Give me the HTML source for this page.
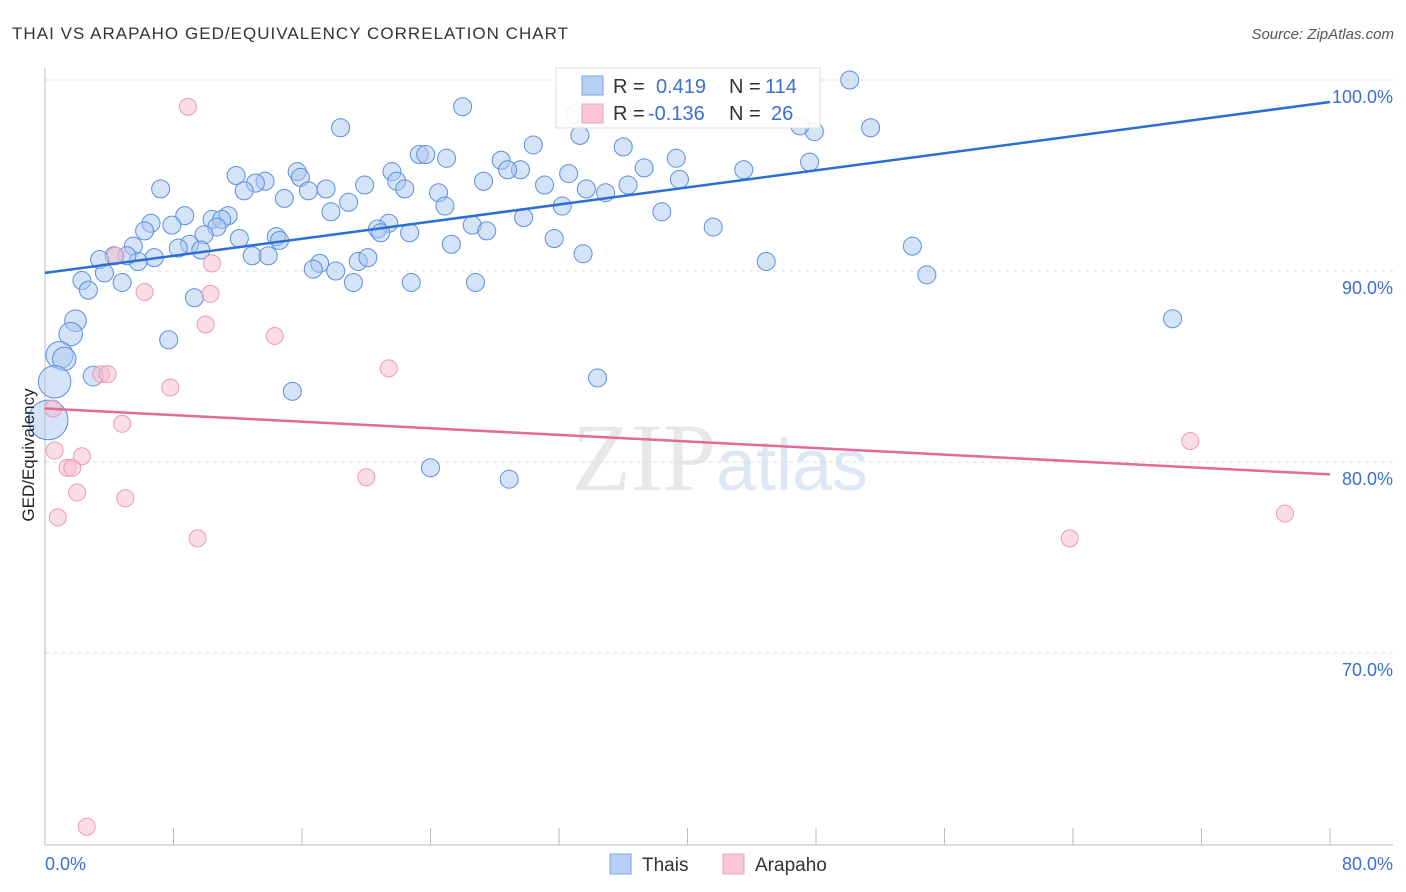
<!DOCTYPE html>
<html><head><meta charset="utf-8"><style>
body{margin:0;background:#fff;}
svg{display:block;font-family:"Liberation Sans",sans-serif;}
</style></head><body>
<svg id="chart" width="1406" height="892">
<text x="12" y="39" font-size="17" fill="#333" textLength="556">THAI VS ARAPAHO GED/EQUIVALENCY CORRELATION CHART</text>
<text x="1394" y="39" font-size="15" fill="#555" text-anchor="end" font-style="italic">Source: ZipAtlas.com</text>
<text x="720" y="490" font-size="96" fill="#e8e8e8" text-anchor="middle" font-family="Liberation Serif,serif">ZIP<tspan fill="#dde7f6" font-family="Liberation Sans,sans-serif" font-size="72">atlas</tspan></text>
<g id="grid"></g>
<g id="axes"></g>
<g id="pts"></g>
<g id="trend"></g>
<text transform="translate(34,455) rotate(-90)" font-size="17" fill="#222" text-anchor="middle">GED/Equivalency</text>
<text x="45" y="870" font-size="18" fill="#3b6fd4">0.0%</text>
<text x="1393" y="870" font-size="18" fill="#3b6fd4" text-anchor="end">80.0%</text>
<g>
<rect x="556" y="68" width="264" height="60" fill="#fff" fill-opacity="0.9" stroke="#ddd"/>
<rect x="582" y="76" width="21" height="19" fill="#b7d0f3" stroke="#7aa6e8"/>
<rect x="582" y="104" width="21" height="19" fill="#f9c7d6" stroke="#f0a0b8"/>
<text x="613" y="93" font-size="20" fill="#333">R = <tspan fill="#3b6fd4" x="656">0.419</tspan><tspan x="729" fill="#333">N =</tspan><tspan x="765" fill="#3b6fd4">114</tspan></text>
<text x="613" y="120" font-size="20" fill="#333">R = <tspan fill="#3b6fd4" x="648">-0.136</tspan><tspan x="729" fill="#333">N =</tspan><tspan x="771" fill="#3b6fd4">26</tspan></text>
</g>
<g>
<rect x="610" y="854" width="21" height="20" fill="#b7d0f3" stroke="#7aa6e8"/>
<text x="642" y="871" font-size="19" fill="#333">Thais</text>
<rect x="723" y="854" width="21" height="20" fill="#f9c7d6" stroke="#f0a0b8"/>
<text x="755" y="871" font-size="19" fill="#333">Arapaho</text>
</g>
</svg>
<script>
const yTicks=[100,90,80,70];
const yTickLabels=["100.0%","90.0%","80.0%","70.0%"];
const thaiX=[50.1,26.0,18.4,33.3,30.4,36.0,51.4,47.9,47.0,33.0,36.5,23.3,23.7,25.0,28.4,29.6,28.8,39.3,37.3,47.6,43.5,11.9,15.7,13.7,13.1,15.9,21.6,21.9,19.9,7.2,12.4,16.4,17.5,22.4,27.3,31.1,32.6,33.7,34.9,36.3,39.5,24.5,14.9,18.9,17.8,24.9,32.2,38.4,29.8,8.7,6.6,7.9,10.4,11.4,11.0,10.7,9.9,6.2,21.4,20.7,20.9,22.7,26.6,27.5,41.6,31.7,12.1,14.4,14.6,9.0,8.3,9.7,5.5,25.3,33.5,54.0,12.9,13.9,17.1,19.5,20.1,16.7,18.1,6.8,5.8,5.1,4.3,3.4,3.7,2.3,2.7,4.8,19.2,22.8,26.8,9.3,44.9,54.9,70.2,1.9,1.6,7.7,0.9,1.2,0.6,3.0,34.4,15.4,0.2,24.0,28.9];
const thaiY=[100.0,98.6,97.5,97.1,96.6,96.5,97.5,97.3,97.6,98.2,98.4,96.1,96.1,95.9,95.8,95.3,95.3,95.9,95.4,95.7,95.3,95.0,95.2,94.7,94.6,94.9,95.2,94.7,94.5,94.3,94.2,94.2,94.3,94.3,94.7,94.5,95.1,94.3,94.1,94.5,94.8,94.1,93.8,93.6,93.1,93.4,93.4,93.1,92.8,92.9,92.5,92.4,92.7,92.9,92.7,92.3,91.9,92.1,92.5,92.2,92.0,92.0,92.4,92.1,92.3,91.7,91.7,91.8,91.6,91.4,91.2,91.1,91.3,91.4,90.9,91.3,90.8,90.8,90.4,90.5,90.7,90.1,90.0,90.7,90.5,90.8,90.8,90.6,89.9,89.5,89.0,89.4,89.4,89.4,89.4,88.6,90.5,89.8,87.5,87.4,86.7,86.4,85.6,85.4,84.2,84.5,84.4,83.7,82.2,79.7,79.1];
const thaiSize=[1,1,1,1,1,1,1,1,1,1,1,1,1,1,1,1,1,1,1,1,1,1,1,1,1,1,1,1,1,1,1,1,1,1,1,1,1,1,1,1,1,1,1,1,1,1,1,1,1,1,1,1,1,1,1,1,1,1,1,1,1,1,1,1,1,1,1,1,1,1,1,1,1,1,1,1,1,1,1,1,1,1,1,1,1,1,1,1,1,1,1,1,1,1,1,1,1,1,1,1.2,1.3,1,1.5,1.3,1.8,1.1,1,1,2.2,1,1];
const arapahoX=[8.9,0.5,0.6,0.8,1.4,1.7,2.0,2.3,2.6,3.5,3.9,4.4,4.8,5.0,6.2,7.8,9.5,10.0,10.3,10.4,14.3,20.0,21.4,63.8,71.3,77.2];
const arapahoY=[98.6,82.8,80.6,77.1,79.7,79.7,78.4,80.3,60.9,84.6,84.6,90.8,82.0,78.1,88.9,83.9,76.0,87.2,88.8,90.4,86.6,79.2,84.9,76.0,81.1,77.3];
const trendThaiY=[89.9,98.85];
const trendArapahoY=[82.8,79.35];
const trendX=[0,80];

const X0=45,X1=1330;
function sx(v){return X0+(v/80)*(X1-X0);}
function sy(v){return 80+(100-v)*19.1;}
const NS="http://www.w3.org/2000/svg";
function mk(tag,attrs,parent){const e=document.createElementNS(NS,tag);for(const k in attrs)e.setAttribute(k,attrs[k]);parent.appendChild(e);return e;}
const grid=document.getElementById('grid');
yTicks.forEach((t,i)=>{
  const l=mk('line',{x1:X0,x2:1393,y1:sy(t),y2:sy(t),stroke:'#ddd','stroke-dasharray':'4,4'},grid);
  
  
  const tx=mk('text',{x:1393,y:sy(t)+23,'font-size':18,fill:'#3b6fd4','text-anchor':'end'},grid);
  tx.textContent=yTickLabels[i];
  
  
});
const axes=document.getElementById('axes');
const ya=mk('line',{x1:X0,x2:X0,y1:68,y2:845,stroke:'#bbb'},axes);


const xa=mk('line',{x1:X0,x2:1393,y1:845,y2:845,stroke:'#bbb'},axes);


for(let i=0;i<=10;i++){
  const t=mk('line',{x1:sx(i*8),x2:sx(i*8),y1:828,y2:845,stroke:'#bbb'},axes);
  
  
}
const pts=document.getElementById('pts');
thaiX.forEach((x,i)=>{
  const c=mk('circle',{cx:sx(x),cy:sy(thaiY[i]),r:9*thaiSize[i],fill:'#a9c8f0','fill-opacity':0.5,stroke:'#5b8fde','stroke-width':1},pts);
  
  
});
arapahoX.forEach((x,i)=>{
  const c=mk('circle',{cx:sx(x),cy:sy(arapahoY[i]),r:8.5,fill:'#f7bccd','fill-opacity':0.5,stroke:'#ee9ab3','stroke-width':1},pts);
  
  
});
const tr=document.getElementById('trend');
const tb=mk('line',{x1:sx(trendX[0]),y1:sy(trendThaiY[0]),x2:sx(trendX[1]),y2:sy(trendThaiY[1]),stroke:'#2a6fd6','stroke-width':2.5},tr);


const tp=mk('line',{x1:sx(trendX[0]),y1:sy(trendArapahoY[0]),x2:sx(trendX[1]),y2:sy(trendArapahoY[1]),stroke:'#e56a94','stroke-width':2.5},tr);


</script>
</body></html>
